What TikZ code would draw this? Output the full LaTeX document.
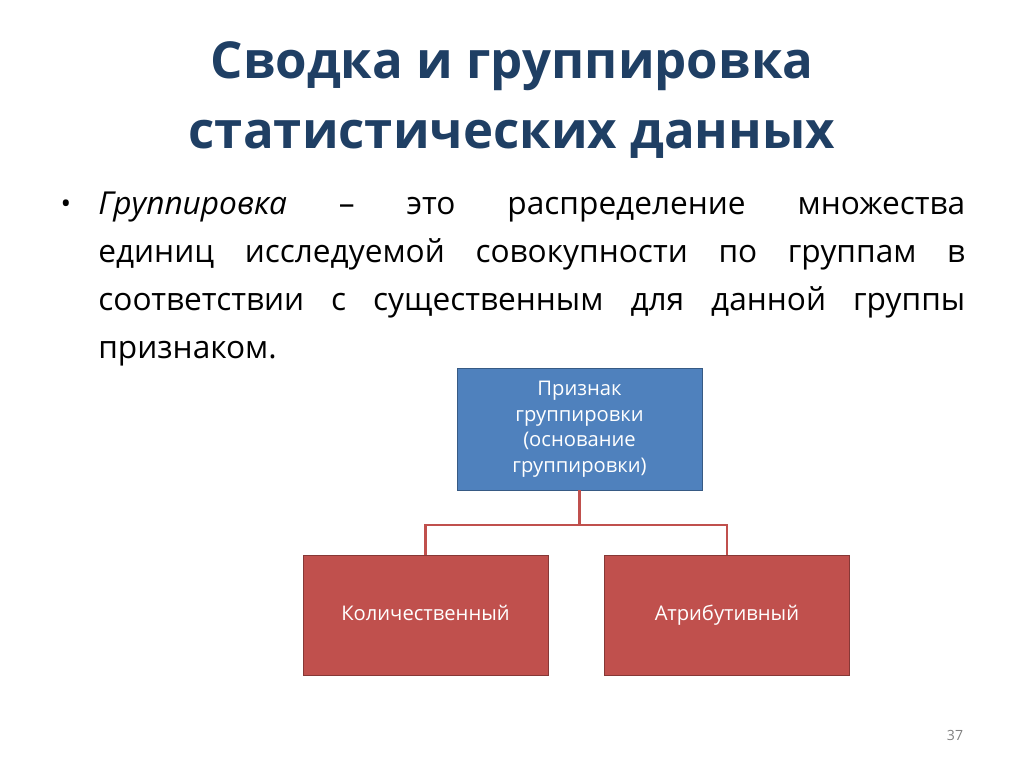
\documentclass[tikz,border=0pt]{standalone}
\usepackage{fontspec}
\setmainfont{Open Sans}
\usetikzlibrary{positioning}
\definecolor{titleblue}{HTML}{1F3F64}
\definecolor{boxblue}{HTML}{4F81BD}
\definecolor{boxred}{HTML}{C0504D}
\definecolor{linkred}{HTML}{C0504D}
\begin{document}
\begin{tikzpicture}[x=0.02cm,y=-0.02cm,
  topbox/.style={draw=boxblue!70!black,fill=boxblue,text=white,minimum width=4.9cm,minimum height=2.44cm,align=center,font=\fontsize{11.5}{14.5}\selectfont},
  leafbox/.style={draw=boxred!70!black,fill=boxred,text=white,minimum width=4.9cm,minimum height=2.4cm,text height=1.5ex,text depth=.25ex,font=\fontsize{11.5}{14}\selectfont},
  link/.style={draw=linkred,line width=1.6pt}]
  \useasboundingbox (0,0) rectangle (1024,767);
  \node[text=titleblue,font=\bfseries\fontsize{29}{40}\selectfont,align=center] (title) at (512,100)
    {Сводка и группировка\\статистических данных};
  \node[font=\fontsize{18}{27.2}\selectfont,text width=17.34cm,align=justify,anchor=north west,inner sep=0pt] (text) at (98,192)
    {\textit{Группировка} – это распределение множества\linebreak единиц исследуемой совокупности по группам в\linebreak соответствии с существенным для данной группы\linebreak признаком.};
  \node[font=\fontsize{16}{20}\selectfont] (bullet) at (66,207) {•};
  \node[topbox] (root) at (579.5,429) {Признак\\группировки\\(основание\\группировки)};
  \node[leafbox] (quant) at (425.5,615) {Количественный};
  \node[leafbox] (attr) at (727,615) {Атрибутивный};
  \coordinate (mid) at (579.5,525);
  \draw[link] (root.south) -- (mid);
  \draw[link] (quant.north) |- (mid) -| (attr.north);
  \node[text=gray,font=\fontsize{8}{10}\selectfont] (page) at (955,735) {37};
\end{tikzpicture}
\end{document}
